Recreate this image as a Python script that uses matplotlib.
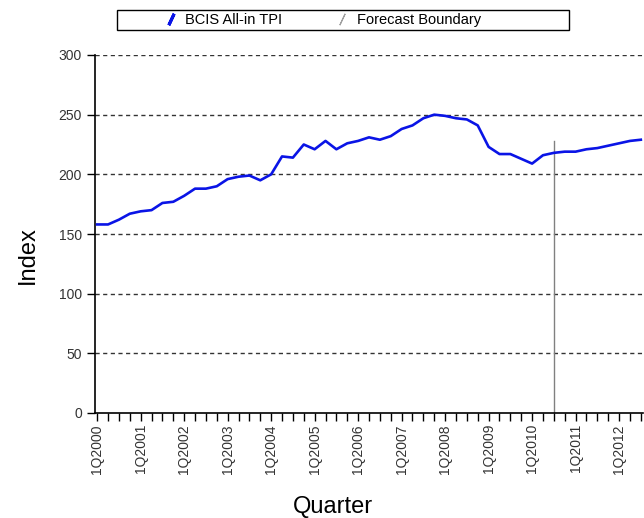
import matplotlib.pyplot as plt
from matplotlib.lines import Line2D
from matplotlib.patches import Rectangle

plt.rcParams['font.family'] = ['Liberation Sans', 'DejaVu Sans']

# quarterly index, 1Q2000 onwards
years = list(range(2000, 2013))
tpi = [158, 158, 162, 167, 169, 170, 176, 177, 182, 188, 188, 190,
       196, 198, 199, 195, 200, 215, 214, 225, 221, 228, 221, 226,
       228, 231, 229, 232, 238, 241, 247, 250, 249, 247, 246, 241,
       223, 217, 217, 213, 209, 216, 218, 219, 219, 221, 222, 224,
       226, 228, 229]
forecast_start = 42  # 3Q2010
tick_labels = ['1Q%d' % y for y in years]

quarters = list(range(len(tpi)))

fig = plt.figure(figsize=(6.44, 5.18), dpi=100)
ax = fig.add_axes([95 / 644, 1 - 413 / 518, 548 / 644, 358 / 518])

ax.plot(quarters, tpi, color='#0a14e6', lw=1.9, solid_joinstyle='round', zorder=3)
ax.axvline(forecast_start, ymin=0, ymax=(228 / 300), color='#808080', lw=1, zorder=2)

ax.set_xlim(-0.2, 50.2)
ax.set_ylim(0, 300)
ax.set_yticks(range(0, 301, 50))
ax.set_xticks(quarters, minor=True)
ax.set_xticks(range(0, 52, 4))
ax.set_xticklabels(tick_labels, rotation=90, fontsize=10, color='#333333')
ax.tick_params(axis='y', labelsize=10, labelcolor='#333333', length=6, width=1)
ax.tick_params(axis='x', which='both', length=6, width=1, pad=2)
for y in range(50, 301, 50):
    ax.axhline(y, color='#333333', lw=1, ls=(0, (3, 2.5)), zorder=1)

for s in ['top', 'right']:
    ax.spines[s].set_visible(False)
ax.spines['left'].set_linewidth(1.2)
ax.spines['bottom'].set_linewidth(1.2)

ax.set_ylabel('Index', fontsize=17)
ax.yaxis.set_label_coords(-0.103, 0.44)
ax.set_xlabel('Quarter', fontsize=17)
ax.xaxis.set_label_coords((333 - 95) / 548, -0.232)

# legend box across the top
fig.patches.append(Rectangle((117 / 644, 1 - 30 / 518), 452 / 644, 20 / 518,
                             transform=fig.transFigure, fill=False,
                             edgecolor='black', lw=1))
handles = [Line2D([], [], color='#0a14e6', marker=(2, 2, -25), markersize=9,
                  markeredgewidth=2.2, ls='none'),
           Line2D([], [], color='#a0a0a0', marker=(2, 2, -25), markersize=9,
                  markeredgewidth=0.8, ls='none')]
fig.legend(handles, ['BCIS All-in TPI', 'Forecast Boundary'], ncol=2,
           loc='center', bbox_to_anchor=(322 / 644, 1 - 20 / 518),
           frameon=False, fontsize=10.5, handlelength=1.0, handletextpad=0.5,
           columnspacing=3.6)

fig.savefig('out.png', dpi=100)
